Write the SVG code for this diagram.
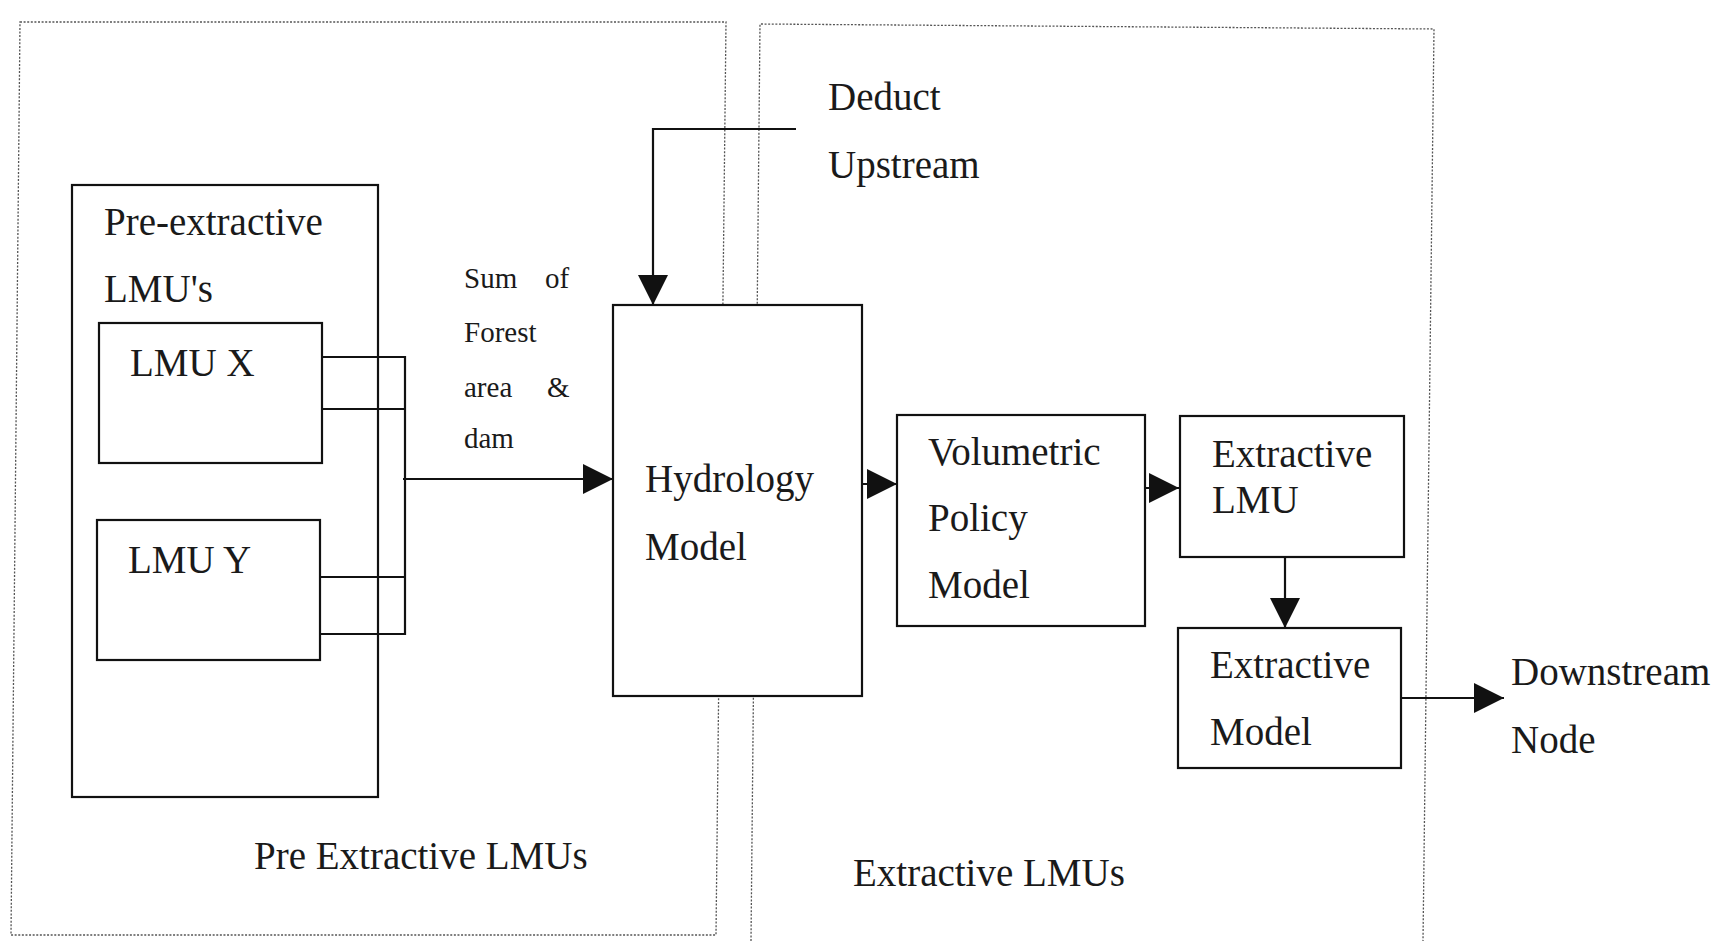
<svg xmlns="http://www.w3.org/2000/svg" width="1732" height="941" viewBox="0 0 1732 941">
<style>
.bg{fill:#ffffff}
.region{fill:none;stroke:#555;stroke-width:1.3;stroke-dasharray:2 1.6}
.box{fill:#ffffff;stroke:#111;stroke-width:2.2}
.inner{fill:none;stroke:#111;stroke-width:2.2}
.t{font-family:"Liberation Serif","Times New Roman",serif;font-size:39px;fill:#1a1a1a}
.s{font-family:"Liberation Serif","Times New Roman",serif;font-size:29px;fill:#1a1a1a}
.c{fill:none;stroke:#111;stroke-width:2.2}
</style>
<defs>
<marker id="ah" viewBox="0 0 30 30" refX="30" refY="15" markerWidth="30" markerHeight="30" markerUnits="userSpaceOnUse" orient="auto">
<path d="M0,0 L30,15 L0,30 Z" fill="#111"/>
</marker>
</defs>
<rect class="bg" x="0" y="0" width="1732" height="941"/>
<g id="regions">
<polygon class="region" points="20,22 726,22 716,935 11,935"/>
<polyline class="region" points="751,941 760,24 1434,29 1423,941"/>
<text class="t" x="254" y="869">Pre Extractive LMUs</text>
<text class="t" x="853" y="886">Extractive LMUs</text>
</g>
<g id="pre-extractive-lmus">
<rect class="inner" x="72" y="185" width="306" height="612"/>
<text class="t" x="104" y="235">Pre-extractive</text>
<text class="t" x="104" y="302">LMU's</text>
</g>
<g id="lmu-x">
<rect class="box" x="99" y="323" width="223" height="140"/>
<text class="t" x="130" y="376">LMU X</text>
</g>
<g id="lmu-y">
<rect class="box" x="97" y="520" width="223" height="140"/>
<text class="t" x="128" y="573">LMU Y</text>
</g>
<g id="hydrology-model">
<rect class="box" x="613" y="305" width="249" height="391"/>
<text class="t" x="645" y="492">Hydrology</text>
<text class="t" x="645" y="560">Model</text>
</g>
<g id="volumetric-policy-model">
<rect class="box" x="897" y="415" width="248" height="211"/>
<text class="t" x="928" y="465">Volumetric</text>
<text class="t" x="928" y="531">Policy</text>
<text class="t" x="928" y="598">Model</text>
</g>
<g id="extractive-lmu">
<rect class="box" x="1180" y="416" width="224" height="141"/>
<text class="t" x="1212" y="467">Extractive</text>
<text class="t" x="1212" y="513">LMU</text>
</g>
<g id="extractive-model">
<rect class="box" x="1178" y="628" width="223" height="140"/>
<text class="t" x="1210" y="678">Extractive</text>
<text class="t" x="1210" y="745">Model</text>
</g>
<g id="labels">
<text class="t" x="828" y="110">Deduct</text>
<text class="t" x="828" y="178">Upstream</text>
<text class="s" x="464" y="288">Sum</text>
<text class="s" x="545" y="288">of</text>
<text class="s" x="464" y="342">Forest</text>
<text class="s" x="464" y="397">area</text>
<text class="s" x="547" y="397">&amp;</text>
<text class="s" x="464" y="448">dam</text>
<text class="t" x="1511" y="685">Downstream</text>
<text class="t" x="1511" y="753">Node</text>
</g>
<g id="connectors">
<path class="c" d="M322,357 H405 V634 H320"/>
<path class="c" d="M322,409 H405"/>
<path class="c" d="M320,577 H405"/>
<path class="c" d="M403,479 H613" marker-end="url(#ah)"/>
<path class="c" d="M796,129 H653 V305" marker-end="url(#ah)"/>
<path class="c" d="M862,484 H897" marker-end="url(#ah)"/>
<path class="c" d="M1145,488 H1179" marker-end="url(#ah)"/>
<path class="c" d="M1285,557 V628" marker-end="url(#ah)"/>
<path class="c" d="M1401,698 H1504" marker-end="url(#ah)"/>
</g>
</svg>
